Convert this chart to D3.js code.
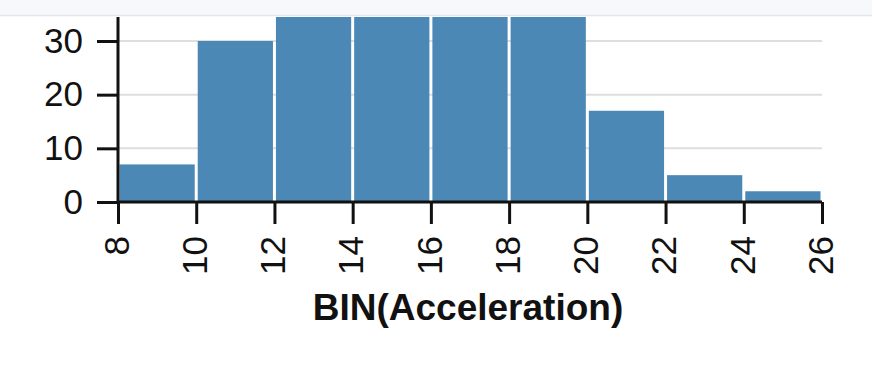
<!DOCTYPE html>
<html>
<head>
<meta charset="utf-8">
<script src="https://cdn.jsdelivr.net/npm/d3@7"></script>
<style>
  html, body { margin: 0; padding: 0; background: #ffffff; }
  svg { display: block; }
  text { font-family: "Liberation Sans", Arial, Helvetica, sans-serif; fill: #111; }
</style>
</head>
<body>
<svg id="chart" width="872" height="389"></svg>
<script>
// ---- data ----
const binStarts = [8, 10, 12, 14, 16, 18, 20, 22, 24];
const binEnds   = [10, 12, 14, 16, 18, 20, 22, 24, 26];
const counts    = [7, 30, 76, 108, 98, 68, 17, 5, 2];
const xTickValues = [8, 10, 12, 14, 16, 18, 20, 22, 24, 26];
const yTickValues = [0, 10, 20, 30];
const xTitle = "BIN(Acceleration)";

// ---- layout ----
const W = 872, H = 389;
const plotLeft = 118, plotRight = 822;
const zeroY = 202, thirtyY = 41, clipTop = 17;

const svg = d3.select("#chart");

// top toolbar band
svg.append("rect").attr("x", 0).attr("y", 0).attr("width", W).attr("height", 15)
  .attr("fill", "#f7f8fc");
svg.append("line").attr("x1", 0).attr("x2", W).attr("y1", 15.5).attr("y2", 15.5)
  .attr("stroke", "#e4e6ec").attr("stroke-width", 1.5);

const x = d3.scaleLinear().domain([8, 26]).range([plotLeft, plotRight]);
const y = d3.scaleLinear().domain([0, 30]).range([zeroY, thirtyY]);

svg.append("defs").append("clipPath").attr("id", "plotclip")
  .append("rect").attr("x", plotLeft - 5).attr("y", clipTop)
  .attr("width", plotRight - plotLeft + 10).attr("height", zeroY - clipTop + 2);

// gridlines
svg.append("g").selectAll("line").data(yTickValues.filter(d => d > 0)).join("line")
  .attr("x1", plotLeft).attr("x2", plotRight)
  .attr("y1", d => y(d)).attr("y2", d => y(d))
  .attr("stroke", "#dedede").attr("stroke-width", 2);

// bars
const bars = binStarts.map((s, i) => ({ s, e: binEnds[i], c: counts[i] }));
svg.append("g").attr("clip-path", "url(#plotclip)")
  .selectAll("rect").data(bars).join("rect")
  .attr("x", d => x(d.s) + 1.5)
  .attr("width", d => x(d.e) - x(d.s) - 3)
  .attr("y", d => y(d.c))
  .attr("height", d => y(0) - y(d.c))
  .attr("fill", "#4b88b6");

// y axis
const yAxis = d3.axisLeft(y).tickValues(yTickValues).tickSize(21).tickPadding(14);
const gy = svg.append("g").attr("transform", `translate(${plotLeft},0)`).call(yAxis);
gy.select(".domain").remove();
gy.selectAll(".tick line").attr("stroke", "#111").attr("stroke-width", 3);
gy.selectAll(".tick text").attr("font-size", 35).style("fill", "#111")
  .attr("font-family", "'Liberation Sans', Arial, Helvetica, sans-serif");
svg.append("line").attr("x1", plotLeft).attr("x2", plotLeft)
  .attr("y1", clipTop).attr("y2", zeroY)
  .attr("stroke", "#111").attr("stroke-width", 3);

// x axis
const xAxis = d3.axisBottom(x).tickValues(xTickValues).tickSize(22).tickFormat(d3.format("d"));
const gx = svg.append("g").attr("transform", `translate(0,${zeroY})`).call(xAxis);
gx.select(".domain").attr("stroke", "#111").attr("stroke-width", 3)
  .attr("d", `M${plotLeft},0H${plotRight}`);
gx.selectAll(".tick line").attr("stroke", "#111").attr("stroke-width", 3);
gx.selectAll(".tick text")
  .attr("font-size", 35).style("fill", "#111")
  .attr("font-family", "'Liberation Sans', Arial, Helvetica, sans-serif")
  .attr("transform", "rotate(-90)")
  .attr("text-anchor", "end")
  .attr("x", -34).attr("y", -2).attr("dy", "0.35em");

// x title
svg.append("text")
  .attr("x", (plotLeft + plotRight) / 2 - 2).attr("y", 320)
  .attr("text-anchor", "middle")
  .attr("font-size", 37).attr("font-weight", "bold")
  .text(xTitle);
</script>
</body>
</html>
